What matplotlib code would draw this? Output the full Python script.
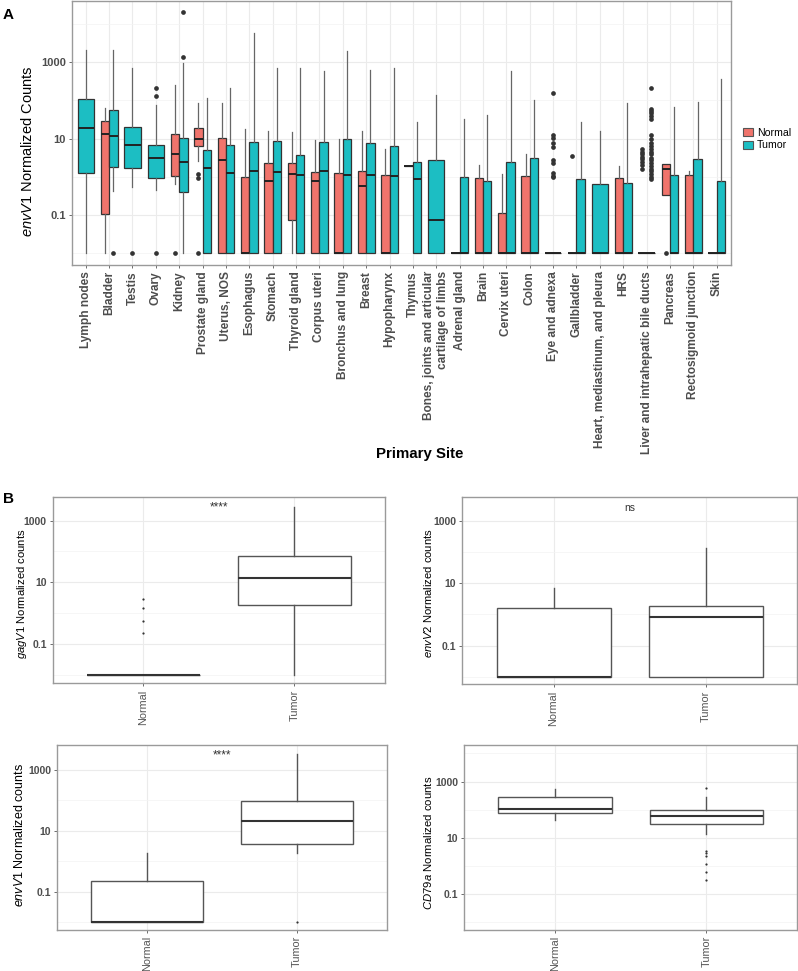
import matplotlib.pyplot as plt
from matplotlib.patches import Patch
from matplotlib.ticker import FixedLocator, NullFormatter

plt.rcParams['font.family'] = ['Liberation Sans', 'DejaVu Sans']
plt.rcParams['mathtext.fontset'] = 'custom'
plt.rcParams['mathtext.rm'] = 'Liberation Sans'
plt.rcParams['mathtext.it'] = 'Liberation Sans:italic'

# ---- panel A data: five-number summaries (q1, median, q3, whisker lo, whisker hi)
# None means the group is absent for that site; 0.01 is the zero floor
sites = ['Lymph nodes', 'Bladder', 'Testis', 'Ovary', 'Kidney', 'Prostate gland',
         'Uterus, NOS', 'Esophagus', 'Stomach', 'Thyroid gland', 'Corpus uteri',
         'Bronchus and lung', 'Breast', 'Hypopharynx', 'Thymus',
         'Bones, joints and articular\ncartilage of limbs', 'Adrenal gland', 'Brain',
         'Cervix uteri', 'Colon', 'Eye and adnexa', 'Gallbladder',
         'Heart, mediastinum, and pleura', 'HRS', 'Liver and intrahepatic bile ducts',
         'Pancreas', 'Rectosigmoid junction', 'Skin']

normal_stats = [
    None,
    (0.107, 13, 28.5, 0.01, 62),
    None,
    None,
    (1.07, 4, 13.5, 0.66, 254),
    (6.3, 10, 19, 2.6, 87),
    (0.01, 2.76, 10.6, 0.01, 85),
    (0.01, 0.01, 1.0, 0.01, 18),
    (0.01, 0.8, 2.35, 0.01, 16),
    (0.072, 1.17, 2.35, 0.01, 15),
    (0.01, 0.76, 1.35, 0.01, 9.1),
    (0.01, 0.01, 1.24, 0.01, 9.8),
    (0.01, 0.59, 1.45, 0.01, 16),
    (0.01, 0.01, 1.12, 0.01, 5.5),
    (1.95, 1.95, 1.95, 1.95, 1.95),
    None,
    (0.01, 0.01, 0.01, 0.01, 0.01),
    (0.01, 0.01, 0.93, 0.01, 2.1),
    (0.01, 0.01, 0.11, 0.01, 1.2),
    (0.01, 0.01, 1.07, 0.01, 4.0),
    None,
    (0.01, 0.01, 0.01, 0.01, 0.01),
    None,
    (0.01, 0.01, 0.93, 0.01, 1.87),
    (0.01, 0.01, 0.01, 0.01, 0.01),
    (0.34, 1.58, 2.2, 0.34, 2.2),
    (0.01, 0.01, 1.14, 0.01, 1.4),
    (0.01, 0.01, 0.01, 0.01, 0.01),
]

tumor_stats = [
    (1.24, 19, 107, 0.01, 2100),
    (1.77, 11.5, 55, 0.43, 2100),
    (1.74, 6.7, 20, 0.54, 710),
    (0.93, 3.1, 6.7, 0.45, 76),
    (0.41, 2.4, 10.4, 0.01, 940),
    (0.01, 1.74, 5, 0.01, 115),
    (0.01, 1.26, 7, 0.01, 214),
    (0.01, 1.4, 8.3, 0.01, 6000),
    (0.01, 1.3, 8.8, 0.01, 710),
    (0.01, 1.1, 3.7, 0.01, 700),
    (0.01, 1.45, 8.3, 0.01, 600),
    (0.01, 1.13, 10, 0.01, 2000),
    (0.01, 1.13, 7.9, 0.01, 630),
    (0.01, 1.03, 6.3, 0.01, 720),
    (0.01, 0.88, 2.5, 0.01, 27),
    (0.01, 0.075, 2.7, 0.01, 138),
    (0.01, 0.01, 0.98, 0.01, 33),
    (0.01, 0.01, 0.76, 0.01, 41),
    (0.01, 0.01, 2.45, 0.01, 590),
    (0.01, 0.01, 3.05, 0.01, 100),
    (0.01, 0.01, 0.01, 0.01, 0.01),
    (0.01, 0.01, 0.89, 0.01, 27),
    (0.01, 0.01, 0.65, 0.01, 16),
    (0.01, 0.01, 0.67, 0.01, 85),
    (0.01, 0.01, 0.01, 0.01, 0.01),
    (0.01, 0.01, 1.1, 0.01, 66),
    (0.01, 0.01, 2.9, 0.01, 93),
    (0.01, 0.01, 0.78, 0.01, 355),
]

normal_outliers = {
    4: [0.01],
    5: [1.17, 0.91, 0.01],
    21: [3.5],
    24: [5.4, 4.6, 3.9, 3.4, 2.9, 2.45, 2.1, 1.6],
    25: [0.01],
}
tumor_outliers = {
    1: [0.01],
    2: [0.01],
    3: [214, 128, 0.01],
    4: [1380, 21000],
    20: [158, 12.4, 10.5, 7.9, 6.1, 2.75, 2.35, 1.23, 1.05, 1.0],
    24: [216, 60, 52, 46, 40, 32, 12.6, 9.5, 7.8, 6.5, 5.4, 4.6, 3.9, 3.2,
         2.75, 2.35, 1.95, 1.6, 1.38, 1.19, 1.0, 0.86],
}

# ---- panel B data
groups = ['Normal', 'Tumor']
gagV1_stats = [(0.01, 0.01, 0.01, 0.01, 0.01), (1.83, 13.8, 71, 0.01, 2800)]
gagV1_outliers = [[2.8, 1.44, 0.56, 0.22], []]
envV2_stats = [(0.01, 0.01, 1.66, 0.01, 7.2), (0.01, 0.85, 1.87, 0.01, 132)]
envV2_outliers = [[], []]
envV1_stats = [(0.01, 0.01, 0.225, 0.01, 1.8), (3.6, 21, 97, 1.8, 3400)]
envV1_outliers = [[], [0.01]]
cd79a_stats = [(76, 107, 290, 42, 550), (31, 59, 96, 14, 295)]
cd79a_outliers = [[], [590, 3.3, 2.8, 2.2, 1.2, 0.6, 0.33]]

NORMAL_C = '#F0746C'
TUMOR_C = '#1CBEC3'
W, H = 798, 971

fig = plt.figure(figsize=(W / 100, H / 100), dpi=100)


def px_axes(l, t, r, b):
    return fig.add_axes([l / W, 1 - b / H, (r - l) / W, (b - t) / H])


def to_stat(s, fl):
    q1, med, q3, lo, hi = s
    return dict(q1=q1, med=med, q3=q3, whislo=lo, whishi=hi, fliers=fl)


def style_log_axis(ax, ylim, tick_size):
    ax.set_yscale('log')
    ax.set_ylim(*ylim)
    ax.yaxis.set_major_locator(FixedLocator([0.1, 10, 1000]))
    ax.set_yticklabels(['0.1', '10', '1000'])
    ax.yaxis.set_minor_locator(FixedLocator([0.01, 1, 100, 10000]))
    ax.yaxis.set_minor_formatter(NullFormatter())
    ax.tick_params(which='minor', length=0)
    ax.tick_params(which='major', length=2.5, color='#555555', width=0.6, pad=1.8)
    ax.grid(True, which='major', color='#ebebeb', lw=0.8)
    ax.grid(True, which='minor', axis='y', color='#f3f3f3', lw=0.5)
    ax.set_axisbelow(True)
    for sp in ax.spines.values():
        sp.set_color('#9a9a9a')
        sp.set_linewidth(1.0)
    for lab in ax.get_yticklabels():
        lab.set_fontweight('bold')
        lab.set_fontsize(tick_size)
        lab.set_color('#4d4d4d')


# ---------------- panel A
axA = px_axes(71.7, 1, 730.7, 265)
for i in range(len(sites)):
    parts = []
    if normal_stats[i] is not None:
        parts.append((normal_stats[i], normal_outliers.get(i, []), NORMAL_C))
    if tumor_stats[i] is not None:
        parts.append((tumor_stats[i], tumor_outliers.get(i, []), TUMOR_C))
    if len(parts) == 1:
        pos, wid = [i], 0.7
    else:
        pos, wid = [i - 0.18, i + 0.18], 0.36
    for (s, fl, c), p in zip(parts, pos):
        axA.bxp([to_stat(s, fl)], positions=[p], widths=wid, patch_artist=True,
                showcaps=False, manage_ticks=False,
                boxprops=dict(facecolor=c, edgecolor='#333333', lw=0.9),
                medianprops=dict(color='#222222', lw=1.4),
                whiskerprops=dict(color='#666666', lw=0.9),
                flierprops=dict(marker='o', markersize=3.4, markerfacecolor='#333333',
                                markeredgecolor='none'))

axA.set_xlim(-0.6, len(sites) - 1 + 0.6)
axA.set_xticks(range(len(sites)))
axA.set_xticklabels(sites, rotation=90, fontsize=8.6, fontweight='bold', color='#4d4d4d',
                    ha='center', va='top', multialignment='right')
style_log_axis(axA, (10 ** -2.31, 10 ** 4.606), 8)
fig.text(28 / W, 1 - 151 / H, r'$\it{envV1}$ Normalized Counts', rotation=90,
         ha='center', va='center', fontsize=10.5)
fig.text(420 / W, 1 - 454 / H, 'Primary Site', ha='center', va='center',
         fontsize=10.8, fontweight='bold')
fig.text(3 / W, 1 - 15 / H, 'A', ha='left', va='center', fontsize=11, fontweight='bold')

handles = [Patch(facecolor=NORMAL_C, edgecolor='#555555', lw=0.8, label='Normal'),
           Patch(facecolor=TUMOR_C, edgecolor='#555555', lw=0.8, label='Tumor')]
fig.legend(handles=handles, loc='center left', bbox_to_anchor=(736 / W, 1 - 139 / H),
           frameon=False, fontsize=7.6, handlelength=0.9, handleheight=0.8,
           handletextpad=0.4, labelspacing=0.25, borderpad=0.2)

# ---------------- panel B
panels = [
    ((52.7, 497.3, 385, 683.3), gagV1_stats, gagV1_outliers, 'gagV1',
     (-2.274, 3.755), '****', (22, 594, 8.1)),
    ((462.3, 497.3, 796.7, 684.3), envV2_stats, envV2_outliers, 'envV2',
     (-2.24, 3.756), 'ns', (428, 593, 8.1)),
    ((57.3, 745, 386.7, 930), envV1_stats, envV1_outliers, 'envV1',
     (-2.26, 3.82), '****', (20, 835, 9)),
    ((464, 745, 797.3, 930), cd79a_stats, cd79a_outliers, 'CD79a',
     (-2.27, 4.30), None, (428, 843, 8.2)),
]
for box, stats, outs, gene, (lo, hi), sig, (lx, ly, lsize) in panels:
    ax = px_axes(*box)
    ax.bxp([to_stat(s, fl) for s, fl in zip(stats, outs)], positions=[0, 1],
           widths=0.75, patch_artist=True, showcaps=False, manage_ticks=False,
           boxprops=dict(facecolor='white', edgecolor='#555555', lw=1.0),
           medianprops=dict(color='#333333', lw=1.5),
           whiskerprops=dict(color='#555555', lw=1.0),
           flierprops=dict(marker='o', markersize=1.6, markerfacecolor='#333333',
                           markeredgecolor='none'))
    ax.set_xlim(-0.6, 1.6)
    ax.set_xticks([0, 1])
    ax.set_xticklabels(groups, rotation=90, fontsize=7.8, color='#555555')
    style_log_axis(ax, (10 ** lo, 10 ** hi), 7.5)
    fig.text(lx / W, 1 - ly / H, r'$\it{' + gene + r'}$ Normalized counts', rotation=90,
             ha='center', va='center', fontsize=lsize)
    if sig:
        ax.text(0.5, 0.945, sig, transform=ax.transAxes, ha='center', va='center',
                fontsize=7.5 if sig == 'ns' else 8.5, color='#333333')

fig.text(3 / W, 1 - 499 / H, 'B', ha='left', va='center', fontsize=11, fontweight='bold')

fig.savefig('out.png', dpi=100)
